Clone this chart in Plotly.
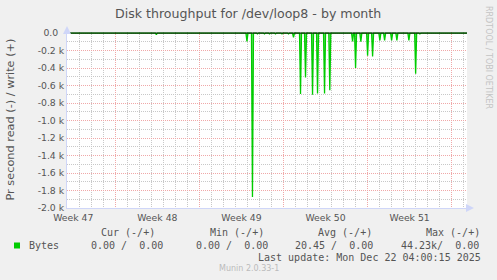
import plotly.graph_objects as go
from datetime import datetime, timedelta

# ---------------- data ----------------
x_start = "2025-11-18 23:30"
x_end = "2025-12-22 06:36"

week_starts = ["2025-11-16", "2025-11-23", "2025-11-30", "2025-12-07",
               "2025-12-14", "2025-12-21"]
week_label_times = ["2025-11-19 12:00", "2025-11-26 12:00", "2025-12-03 12:00",
                    "2025-12-10 12:00", "2025-12-17 12:00"]
week_labels = ["Week 47", "Week 48", "Week 49", "Week 50", "Week 51"]

y_tick_vals = [0, -200, -400, -600, -800, -1000, -1200, -1400, -1600, -1800, -2000]
y_tick_text = ["0.0\u00a0\u00a0", "-0.2 k", "-0.4 k", "-0.6 k", "-0.8 k", "-1.0 k",
               "-1.2 k", "-1.4 k", "-1.6 k", "-1.8 k", "-2.0 k"]

# read (negative) spikes: time, bytes per second
spike_times = ["2025-11-26 10:00", "2025-12-03 23:00", "2025-12-04 10:00",
               "2025-12-04 20:00", "2025-12-05 10:00", "2025-12-05 20:00",
               "2025-12-06 08:00", "2025-12-06 21:00", "2025-12-07 10:00",
               "2025-12-07 20:00", "2025-12-08 10:00", "2025-12-08 20:00",
               "2025-12-09 10:00", "2025-12-09 20:00", "2025-12-10 10:00",
               "2025-12-10 20:30", "2025-12-12 18:00", "2025-12-13 00:00",
               "2025-12-13 10:30", "2025-12-14 00:00", "2025-12-14 10:00",
               "2025-12-15 00:30", "2025-12-15 10:00", "2025-12-16 00:00",
               "2025-12-16 10:30", "2025-12-17 10:30", "2025-12-18 00:00",
               "2025-12-18 08:30"]
spike_values = [-20, -96, -1874,
                -10, -10, -10,
                -10, -10, -10,
                -50, -696, -507,
                -704, -692, -692,
                -654, -96, -400,
                -98, -260, -268,
                -85, -85, -85,
                -85, -85, -465,
                -10]

legend_headers = ["Cur (-/+)", "Min (-/+)", "Avg (-/+)", "Max (-/+)"]
legend_values = ["0.00 /  0.00", "0.00 /  0.00", "20.45 /  0.00", "44.23k/  0.00"]
series_name = "Bytes"
title_text = "Disk throughput for /dev/loop8 - by month"
y_title = "Pr second read (-) / write (+)"
last_update = "Last update: Mon Dec 22 04:00:15 2025"
footer = "Munin 2.0.33-1"
watermark = "RRDTOOL / TOBI OETIKER"

# ---------------- build series ----------------
t_start = datetime.fromisoformat(x_start)
t_end = datetime.fromisoformat(x_end)
xs, ys = [t_start], [0]
for t, v in zip(spike_times, spike_values):
    tt = datetime.fromisoformat(t)
    xs += [tt - timedelta(hours=2), tt, tt + timedelta(hours=2)]
    ys += [0, v, 0]
xs.append(t_end)
ys.append(0)

# ---------------- geometry helpers ----------------
W, H = 497, 280
L, R, T, B = 67, 30, 32, 72
PW, PH = W - L - R, H - T - B


def px(x):
    return (x - L) / PW


def py(y):
    return (H - B - y) / PH


FONT = "DejaVu Sans"
MONO = "DejaVu Sans Mono"
TXT = "#555555"
GRID = "#c8c8c8"
MGRID = "#f0a8a8"
AXIS = "#CFD6F8"

fig = go.Figure()
fig.add_trace(go.Scatter(
    x=xs, y=ys, mode="lines", name=series_name,
    line=dict(color="#00cc00", width=1.3),
    fill="tozeroy", fillcolor="rgba(0,204,0,0.55)",
    xaxis="x", yaxis="y", showlegend=False, hoverinfo="skip"))
# zero rule
fig.add_trace(go.Scatter(
    x=[t_start, t_end], y=[0, 0], mode="lines",
    line=dict(color="#000000", width=1),
    xaxis="x2", yaxis="y", showlegend=False, hoverinfo="skip"))

fig.update_layout(
    width=W, height=H,
    margin=dict(l=L, r=R, t=T, b=B),
    paper_bgcolor="#F0F0F0", plot_bgcolor="#FFFFFF",
    showlegend=False,
    xaxis=dict(
        type="date", range=[t_start, t_end],
        tickmode="array", tickvals=week_starts, ticktext=[""] * len(week_starts),
        showticklabels=False, ticks="",
        showgrid=True, gridcolor=MGRID, gridwidth=1, griddash="1px,1px",
        minor=dict(dtick=86400000, tick0="2025-11-16", showgrid=True,
                   gridcolor=GRID, gridwidth=1, griddash="1px,1px", ticks=""),
        showline=True, linecolor=AXIS, linewidth=1,
        zeroline=False, fixedrange=True,
    ),
    xaxis2=dict(
        type="date", range=[t_start, t_end], overlaying="x", anchor="y",
        side="bottom",
        tickmode="array", tickvals=week_label_times, ticktext=week_labels,
        showgrid=False, showline=False, zeroline=False, ticks="",
        ticklabelstandoff=3,
        tickfont=dict(family=FONT, size=9.3, color=TXT),
        fixedrange=True,
    ),
    yaxis=dict(
        range=[-2000, 12],
        tickmode="array", tickvals=y_tick_vals, ticktext=y_tick_text,
        tickfont=dict(family=FONT, size=9.3, color=TXT),
        showgrid=True, gridcolor=MGRID, gridwidth=1, griddash="1px,1px",
        minor=dict(dtick=100, tick0=0, showgrid=True, gridcolor=GRID,
                   gridwidth=1, griddash="1px,1px", ticks=""),
        showline=True, linecolor=AXIS, linewidth=1,
        zeroline=False, ticks="", fixedrange=True,
    ),
)

ann = []
ann.append(dict(text=title_text, x=px(248.3), y=py(13), xref="paper", yref="paper",
                xanchor="center", yanchor="middle", showarrow=False,
                font=dict(family=FONT, size=12.6, color=TXT)))
ann.append(dict(text=y_title, x=px(10), y=py(119.5), xref="paper", yref="paper",
                xanchor="center", yanchor="middle", showarrow=False, textangle=-90,
                font=dict(family=FONT, size=11.3, color=TXT)))
ann.append(dict(text=watermark, x=px(489), y=py(57), xref="paper", yref="paper",
                xanchor="center", yanchor="middle", showarrow=False, textangle=90,
                font=dict(family=FONT, size=8, color="#c4c4c4")))

hdr_x = [98.7, 207.7, 315.7, 424.0]
val_x = [89.3, 194.3, 293.3, 398.7]
for hx, h in zip(hdr_x, legend_headers):
    ann.append(dict(text=h, x=px(hx), y=py(232.3), xref="paper", yref="paper",
                    xanchor="left", yanchor="middle", showarrow=False,
                    font=dict(family=MONO, size=10, color=TXT)))
for vx, v in zip(val_x, legend_values):
    ann.append(dict(text=v.replace(" ", "\u00a0"), x=px(vx), y=py(245.5),
                    xref="paper", yref="paper",
                    xanchor="left", yanchor="middle", showarrow=False,
                    font=dict(family=MONO, size=10, color=TXT)))
ann.append(dict(text=series_name, x=px(26.7), y=py(245.5), xref="paper", yref="paper",
                xanchor="left", yanchor="middle", showarrow=False,
                font=dict(family=MONO, size=10, color=TXT)))
ann.append(dict(text=last_update.replace(" ", "\u00a0"), x=px(483), y=py(257.3),
                xref="paper", yref="paper",
                xanchor="right", yanchor="middle", showarrow=False,
                font=dict(family=MONO, size=10, color=TXT)))
ann.append(dict(text=footer, x=px(248.5), y=py(268.7), xref="paper", yref="paper",
                xanchor="center", yanchor="middle", showarrow=False,
                font=dict(family=FONT, size=8, color="#bbbbbb")))
# axis arrows
ann.append(dict(text="", x=px(67), y=py(26), xref="paper", yref="paper",
                showarrow=True, ax=0, ay=9, arrowhead=2, arrowsize=1.6,
                arrowwidth=1, arrowcolor=AXIS, standoff=0))
ann.append(dict(text="", x=px(474), y=py(208), xref="paper", yref="paper",
                showarrow=True, ax=-9, ay=0, arrowhead=2, arrowsize=1.6,
                arrowwidth=1, arrowcolor=AXIS, standoff=0))
fig.update_layout(annotations=ann)

fig.add_shape(type="rect", xref="paper", yref="paper",
              x0=px(14), x1=px(20), y0=py(248.5), y1=py(242.5),
              fillcolor="#00cc00", line=dict(width=0))

fig.write_html("out.html")
